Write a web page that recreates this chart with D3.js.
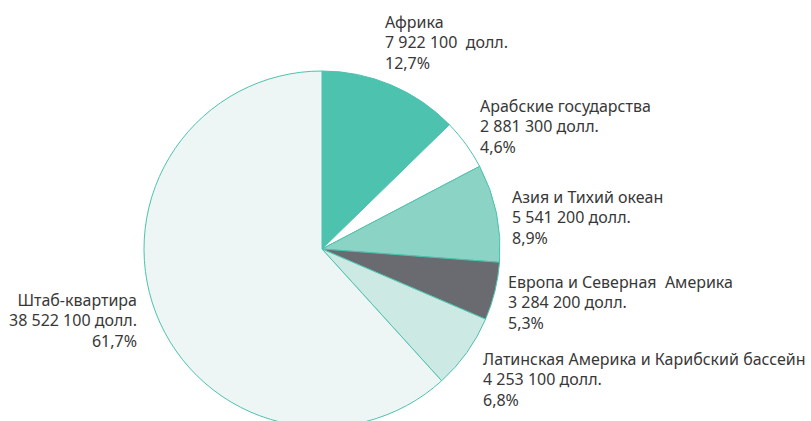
<!DOCTYPE html>
<html>
<head>
<meta charset="utf-8">
<script src="https://cdn.jsdelivr.net/npm/d3@7"></script>
<style>
  body { margin: 0; background: #fff; }
  text { font-family: "Noto Sans", "Open Sans", sans-serif; fill: #383838; }
</style>
</head>
<body>
<script>
const regions = ['Африка', 'Арабские государства', 'Азия и Тихий океан',
    'Европа и Северная  Америка', 'Латинская Америка и Карибский бассейн', 'Штаб-квартира'];
const amounts = [7922100, 2881300, 5541200, 3284200, 4253100, 38522100];
const amountLabels = ['7 922 100  долл.', '2 881 300 долл.', '5 541 200 долл.',
    '3 284 200 долл.', '4 253 100 долл.', '38 522 100 долл.'];
const percentLabels = ['12,7%', '4,6%', '8,9%', '5,3%', '6,8%', '61,7%'];

const colors = ['#4dc2ae', '#ffffff', '#8bd3c4', '#6a6b70', '#cde9e3', '#edf6f4'];
const labelPos = [[385, 28, 'start'], [480, 112, 'start'], [512, 203, 'start'],
    [508, 288, 'start'], [483, 365, 'start'], [137, 306, 'end']];

const W = 811, H = 421;
const cx = 322, cy = 249, R = 178;

const svg = d3.select('body').append('svg')
    .attr('width', W)
    .attr('height', H);

const pie = d3.pie().sort(null).value(d => d);
const arc = d3.arc().innerRadius(0).outerRadius(R);

const g = svg.append('g')
    .attr('transform', `translate(${cx},${cy})`);

g.selectAll('path')
    .data(pie(amounts))
    .enter().append('path')
    .attr('d', arc)
    .attr('fill', (d, i) => colors[i])
    .attr('stroke', '#4dc2ae')
    .attr('stroke-width', 1)
    .attr('stroke-linejoin', 'round');

const labels = svg.selectAll('text.lbl')
    .data(regions)
    .enter().append('text')
    .attr('class', 'lbl')
    .attr('font-size', '16px')
    .attr('text-anchor', (d, i) => labelPos[i][2])
    .attr('transform', (d, i) => `translate(${labelPos[i][0]},${labelPos[i][1]})`);

labels.each(function(d, i) {
    const t = d3.select(this);
    [d, amountLabels[i], percentLabels[i]].forEach((s, k) => {
        t.append('tspan')
            .attr('x', 0)
            .attr('y', k * 20.3)
            .style('white-space', 'pre')
            .text(s);
    });
});
</script>
</body>
</html>
